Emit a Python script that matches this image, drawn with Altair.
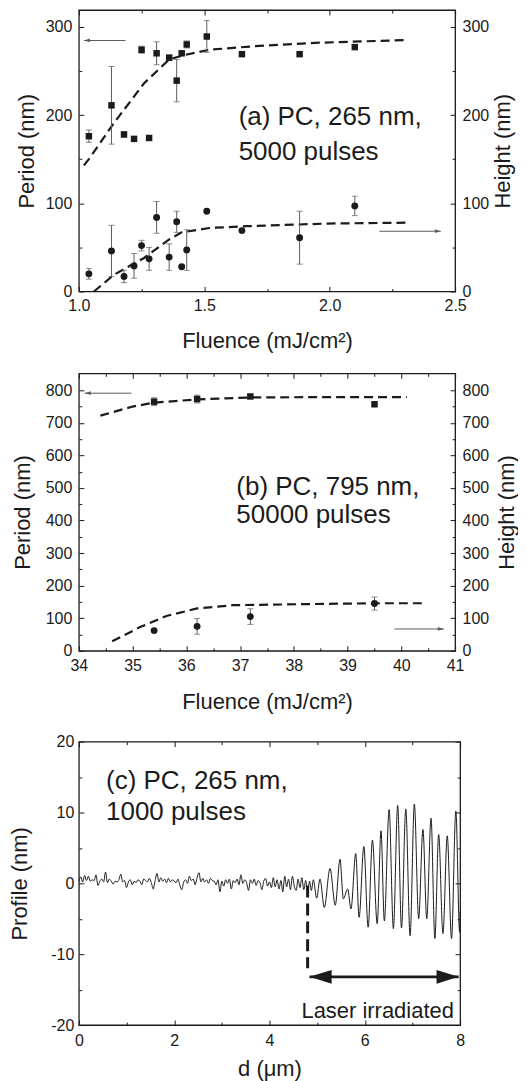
import altair as alt
import pandas as pd

FONT = "Liberation Sans"
INK = "#1b1b1b"
GREY = "#5c5c5c"

# ---------------- panel (a) ----------------
a_fluence = [1.04, 1.13, 1.18, 1.22, 1.25, 1.28, 1.31, 1.36, 1.39, 1.41, 1.43, 1.51, 1.65, 1.88, 2.10]
a_period = [176, 211, 178, 173, 274, 174, 270, 265, 239, 270, 280, 289, 269, 269, 277]
a_period_err = [7, 44, 3, 0, 4, 0, 13, 3, 24, 0, 4, 18, 0, 0, 0]
a_height = [20, 46, 17, 29, 52, 37, 84, 39, 79, 28, 47, 91, 69, 61, 97]
a_height_err = [6, 29, 7, 14, 6, 13, 18, 15, 12, 0, 23, 0, 0, 30, 11]
a_pfit_x = [1.02, 1.04, 1.14, 1.26, 1.36, 1.42, 1.52, 1.70, 1.96, 2.31]
a_pfit_y = [143, 150, 191, 236, 263, 268, 274, 278, 282, 285]
a_hfit_x = [1.06, 1.14, 1.26, 1.36, 1.41, 1.52, 1.67, 1.99, 2.31]
a_hfit_y = [0, 19, 38, 59, 67, 72, 74, 77, 78]
a_arrow_from = [1.186, 2.198]
a_arrow_to = [1.02, 2.443]
a_arrow_y = [284.5, 68.3]
a_arrow_dir = ["left", "right"]
a_text = ["(a) PC, 265 nm,", "5000 pulses"]
a_text_x = [1.637, 1.637]
a_text_y = [198, 158]

# ---------------- panel (b) ----------------
b_fluence = [35.4, 36.2, 37.19, 39.5]
b_period = [765, 773, 781, 757]
b_period_err = [12, 12, 6, 6]
b_height = [62, 75, 105, 145]
b_height_err = [0, 24, 24, 20]
b_pfit_x = [34.4, 35.0, 35.4, 36.2, 37.2, 38.5, 40.1]
b_pfit_y = [722, 750, 762, 772, 778, 779, 779]
b_hfit_x = [34.62, 35.13, 35.63, 36.2, 36.86, 38.1, 39.5, 40.47]
b_hfit_y = [29, 72, 107, 130, 140, 143, 146, 146]
b_arrow_from = [34.98, 39.87]
b_arrow_to = [34.11, 40.79]
b_arrow_y = [791, 67]
b_arrow_dir = ["left", "right"]
b_text = ["(b) PC, 795 nm,", "50000 pulses"]
b_text_x = [36.93, 36.93]
b_text_y = [504, 416]

# ---------------- panel (c) ----------------
c_noise = [0.3, 0.9, 0.2, 1.1, 0.4, 1.0, 0.3, 0.5, 0.4, 1.2,
           -0.3, 0.3, 0.6, 0.2, 1.6, 0.1, 0.6, 0.3, -0.1, 0.3,
           0.2, 0.5, 1.3, 0.2, 0.4, -0.6, 0.2, 0.5, -0.2, 0.3,
           0.1, 0.5, 0.3, -0.2, 0.6, 0.4, 0.2, 0.7, 0.1, -0.8,
           0.4, 1.4, 0.2, 0.8, 0.3, 0.6, 0.1, 0.7, 0.2, 0.5,
           0.3, 0.1, 0.6, -0.3, -0.9, 0.2, 0.5, 0.0, 1.0, 0.4,
           0.6, -0.2, 0.8, 1.5, 0.2, 0.7, 0.2, 0.5, 0.0, 0.7,
           0.4, 0.3, -0.2, 0.5, -1.2, 0.3, -0.4, 0.5, 0.0, 0.6,
           -0.8, 0.4, 0.1, 0.6, -0.2, 1.2, 0.0, 0.5, 0.1, -1.0,
           0.5, 0.0, 0.6, -0.3, 0.4, 0.1, -0.9, 0.3, 0.7, -0.4,
           0.2, -0.6, 0.8, -0.5, 0.5, -0.8, 0.4, -1.2, 1.0, -0.5,
           0.6, -0.9, 1.0, -0.4, -1.0, 0.6, -0.6, 0.8, -0.9, 0.4]
c_noise_step = 0.04
c_osc_d = [4.80, 4.84, 4.88, 4.92, 4.99, 5.06, 5.15, 5.27, 5.38, 5.48, 5.55, 5.64, 5.71,
           5.81, 5.88, 5.98, 6.07, 6.16, 6.26, 6.34, 6.41, 6.51, 6.60, 6.69, 6.77, 6.86,
           6.95, 7.04, 7.13, 7.22, 7.30, 7.39, 7.47, 7.55, 7.64, 7.73, 7.82, 7.91, 7.99, 8.00]
c_osc_p = [-1.5, 0.3, -1.0, 0.5, -2.1, 0.6, -3.4, 2.1, -3.1, 3.4, -2.2, -0.8, -3.6,
           4.2, -4.8, 5.2, -6.2, 6.1, -5.7, 7.4, -5.3, 10.4, -6.4, 11.0, -6.3, 10.5,
           -7.4, 11.2, -5.0, 7.6, -5.0, 9.2, -7.8, 6.9, -7.1, 6.7, -7.8, 10.2, -6.9, -4.0]
c_mark_x = [4.80]
c_mark_y = [-0.3]
c_mark_y2 = [-12.0]
c_arrow_from = [4.84]
c_arrow_to = [7.97]
c_arrow_y = [-13.2]
c_text = ["(c) PC, 265 nm,", "1000 pulses"]
c_text_x = [0.57, 0.57]
c_text_y = [14.5, 10.0]
c_note = ["Laser irradiated"]
c_note_x = [6.27]
c_note_y = [-18.0]

SMALL_L = "M0,0L2.6,-0.8L2.6,0.8Z"
SMALL_R = "M0,0L-2.6,-0.8L-2.6,0.8Z"
CHEV_L = "M0,0L1.9,-1.05L2.1,-0.77L0.7,0L2.1,0.77L1.9,1.05Z"
CHEV_R = "M0,0L-1.9,-1.05L-2.1,-0.77L-0.7,0L-2.1,0.77L-1.9,1.05Z"


def ax_label(orient, values, title, lpad, tpad, fmt=None, expr=None, tx=None):
    kw = dict(orient=orient, values=values, tickSize=0, domain=False, grid=False,
              labelPadding=lpad, title=title, titlePadding=tpad, labelFlush=False,
              labelOverlap=False, labelFontSize=16, titleFontSize=22,
              labelFont=FONT, titleFont=FONT, labelColor=INK, titleColor=INK,
              titleFontWeight="normal")
    if fmt is not None:
        kw["format"] = fmt
    if expr is not None:
        kw["labelExpr"] = expr
    if tx is not None:
        kw["titleX"] = tx
        kw["titleAngle"] = 270
        kw["titleBaseline"] = "middle"
        kw["titleAlign"] = "center"
    return alt.Axis(**kw)


def ax_ticks(orient, values, size):
    return alt.Axis(orient=orient, values=values, labels=False, domain=False, grid=False,
                    ticks=True, tickSize=size, offset=-size, title=None,
                    tickColor=INK, tickWidth=1)


def fluence_panel(fl, per, per_err, hei, hei_err, pfx, pfy, hfx, hfy,
                  ar_from, ar_to, ar_y, ar_dir, txt, txt_x, txt_y,
                  xdom, ydom, xmaj, xmin, ymaj, ymin, xfmt, w, h,
                  ltx, rtx, xlpad, xtpad):
    xs = alt.Scale(domain=xdom, nice=False, zero=False)
    ys = alt.Scale(domain=ydom, nice=False, zero=False)

    def X(field, axis):
        return alt.X(field, type="quantitative", scale=xs, axis=axis)

    def Y(field, axis):
        return alt.Y(field, type="quantitative", scale=ys, axis=axis)

    pts = pd.DataFrame({"x": fl, "p": per, "pe": per_err, "h": hei, "he": hei_err})
    perr = pts[pts.pe > 0].assign(lo=lambda d: d.p - d.pe, hi=lambda d: d.p + d.pe)
    herr = pts[pts.he > 0].assign(lo=lambda d: d.h - d.he, hi=lambda d: d.h + d.he)
    caps = pd.concat([
        perr[["x", "lo"]].rename(columns={"lo": "v"}), perr[["x", "hi"]].rename(columns={"hi": "v"}),
        herr[["x", "lo"]].rename(columns={"lo": "v"}), herr[["x", "hi"]].rename(columns={"hi": "v"}),
    ])
    pfit = pd.DataFrame({"x": pfx, "v": pfy})
    hfit = pd.DataFrame({"x": hfx, "v": hfy})
    arrows = pd.DataFrame({"x": ar_from, "x2": ar_to, "v": ar_y, "dir": ar_dir})
    texts = pd.DataFrame({"x": txt_x, "v": txt_y, "t": txt})

    dash = dict(strokeDash=[9, 5], strokeWidth=2.2, color=INK)
    l1 = alt.Chart(pfit).mark_line(**dash).encode(
        X("x", ax_label("bottom", xmaj, "Fluence (mJ/cm²)", xlpad, xtpad, fmt=xfmt)),
        Y("v", ax_label("left", ymaj, "Period (nm)", 7, 4, fmt="d", tx=ltx)))
    l2 = alt.Chart(hfit).mark_line(**dash).encode(
        X("x", ax_ticks("top", xmaj, 5)),
        Y("v", ax_label("right", ymaj, "Height (nm)", 7, 4, fmt="d", tx=rtx)))
    l3 = alt.Chart(perr).mark_rule(color=GREY, strokeWidth=1).encode(
        X("x", ax_ticks("bottom", xmaj, 5)), Y("lo", ax_ticks("left", ymaj, 5)), y2="hi")
    l4 = alt.Chart(herr).mark_rule(color=GREY, strokeWidth=1).encode(
        X("x", ax_ticks("top", xmin, 3)), Y("lo", ax_ticks("right", ymaj, 5)), y2="hi")
    l5 = alt.Chart(caps).mark_tick(orient="horizontal", size=6, thickness=1, color=GREY).encode(
        X("x", ax_ticks("bottom", xmin, 3)), Y("v", ax_ticks("left", ymin, 3)))
    l6 = alt.Chart(pts).mark_square(size=42, color=INK, opacity=1).encode(
        X("x", None), Y("p", ax_ticks("right", ymin, 3)))
    l7 = alt.Chart(pts).mark_circle(size=48, color=INK, opacity=1).encode(
        X("x", None), Y("h", None))
    l8 = alt.Chart(arrows).mark_rule(color=GREY, strokeWidth=1).encode(
        X("x", None), x2="x2", y=Y("v", None))
    l9 = alt.Chart(arrows).mark_point(filled=True, size=22, color=GREY, opacity=1).encode(
        X("x2", None), Y("v", None),
        shape=alt.Shape("dir:N", scale=alt.Scale(domain=["left", "right"], range=[SMALL_L, SMALL_R]), legend=None))
    l10 = alt.Chart(texts).mark_text(align="left", baseline="middle", fontSize=26, font=FONT, color=INK).encode(
        X("x", None), Y("v", None), text="t")
    return alt.layer(l1, l2, l3, l4, l5, l6, l7, l8, l9, l10).resolve_axis(
        x="independent", y="independent").properties(width=w, height=h)


panel_a = fluence_panel(a_fluence, a_period, a_period_err, a_height, a_height_err,
                        a_pfit_x, a_pfit_y, a_hfit_x, a_hfit_y,
                        a_arrow_from, a_arrow_to, a_arrow_y, a_arrow_dir,
                        a_text, a_text_x, a_text_y,
                        [1.0, 2.5], [0, 319], [1.0, 1.5, 2.0, 2.5], [1.25, 1.75, 2.25],
                        [0, 100, 200, 300], [50, 150, 250], ".1f", 377, 282, -52, 47, 6, 17)

panel_b = fluence_panel(b_fluence, b_period, b_period_err, b_height, b_height_err,
                        b_pfit_x, b_pfit_y, b_hfit_x, b_hfit_y,
                        b_arrow_from, b_arrow_to, b_arrow_y, b_arrow_dir,
                        b_text, b_text_x, b_text_y,
                        [34, 41], [0, 852], [34, 35, 36, 37, 38, 39, 40, 41],
                        [34.5, 35.5, 36.5, 37.5, 38.5, 39.5, 40.5],
                        [0, 100, 200, 300, 400, 500, 600, 700, 800],
                        [50, 150, 250, 350, 450, 550, 650, 750], "d", 377, 278, -56, 51, 7, 18)

# panel (c)
prof = pd.DataFrame({
    "x": [round(i * c_noise_step, 2) for i in range(len(c_noise))] + c_osc_d,
    "v": c_noise + c_osc_p,
})
cx = alt.Scale(domain=[0, 8], nice=False, zero=False)
cy = alt.Scale(domain=[-20, 20], nice=False, zero=False)
c_xmaj = [0, 2, 4, 6, 8]
c_xmin = [1, 3, 5, 7]
c_ymaj = [-20, -10, 0, 10, 20]
c_ymin = [-15, -5, 5, 15]


def CX(field, axis):
    return alt.X(field, type="quantitative", scale=cx, axis=axis)


def CY(field, axis):
    return alt.Y(field, type="quantitative", scale=cy, axis=axis)


mark_df = pd.DataFrame({"x": c_mark_x, "v": c_mark_y, "v2": c_mark_y2})
arr_df = pd.DataFrame({"x": c_arrow_from, "x2": c_arrow_to, "v": c_arrow_y})
heads_df = pd.DataFrame({"x": c_arrow_from + c_arrow_to, "v": c_arrow_y + c_arrow_y, "dir": ["left", "right"]})
ctext_df = pd.DataFrame({"x": c_text_x, "v": c_text_y, "t": c_text})
note_df = pd.DataFrame({"x": c_note_x, "v": c_note_y, "t": c_note})

c1 = alt.Chart(prof).mark_line(color=INK, strokeWidth=1, interpolate="monotone").encode(
    CX("x", ax_label("bottom", c_xmaj, "d (μm)", 7, 11, fmt="d")),
    CY("v", ax_label("left", c_ymaj, "Profile (nm)", 5, 4, expr="toString(datum.value)", tx=-59)))
c2 = alt.Chart(mark_df).mark_rule(color=INK, strokeWidth=3, strokeDash=[12, 6]).encode(
    CX("x", ax_ticks("top", c_xmaj, 5)), CY("v", ax_ticks("right", c_ymaj, 5)), y2="v2")
c3 = alt.Chart(arr_df).mark_rule(color=INK, strokeWidth=2.6).encode(
    CX("x", ax_ticks("bottom", c_xmaj, 5)), CY("v", ax_ticks("left", c_ymaj, 5)), x2="x2")
c4 = alt.Chart(heads_df).mark_point(filled=True, size=290, color=INK, strokeWidth=0.5, opacity=1).encode(
    CX("x", ax_ticks("bottom", c_xmin, 3)), CY("v", ax_ticks("left", c_ymin, 3)),
    shape=alt.Shape("dir:N", scale=alt.Scale(domain=["left", "right"], range=[CHEV_L, CHEV_R]), legend=None))
c5 = alt.Chart(note_df).mark_text(align="center", baseline="middle", fontSize=22, font=FONT, color=INK).encode(
    CX("x", ax_ticks("top", c_xmin, 3)), CY("v", ax_ticks("right", c_ymin, 3)), text="t")
c6 = alt.Chart(ctext_df).mark_text(align="left", baseline="middle", fontSize=26, font=FONT, color=INK).encode(
    CX("x", None), CY("v", None), text="t")
panel_c = alt.layer(c1, c2, c3, c4, c5, c6).resolve_axis(
    x="independent", y="independent").properties(width=382, height=284)

chart = alt.vconcat(panel_a, panel_b, panel_c, spacing=19).properties(
    padding={"left": 0, "top": -1, "right": 0, "bottom": 0}
).configure_view(stroke=INK, strokeWidth=1.3).configure_axis(grid=False)

chart.save("out.html", embed_options={"renderer": "svg", "actions": False})
